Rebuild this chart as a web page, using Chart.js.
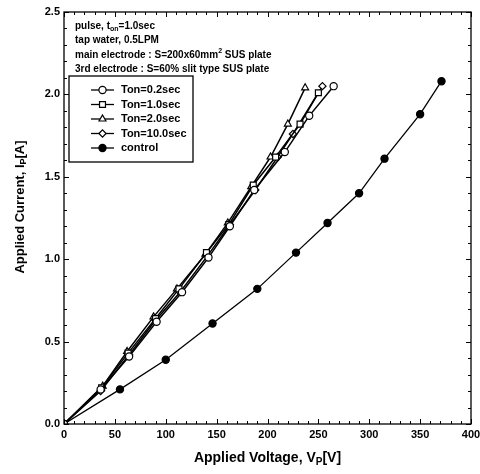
<!DOCTYPE html>
<html>
<head>
<meta charset="utf-8">
<script src="https://cdn.jsdelivr.net/npm/chart.js@4"></script>
<style>
  html, body { margin: 0; padding: 0; background: #fff; }
  #wrap { width: 480px; height: 474px; position: relative; }
</style>
</head>
<body>
<div id="wrap"><canvas id="chart" width="480" height="474"></canvas></div>
<script>
// Pulse tests, applied voltage [V] vs applied current [A]
const voltsTon02 = [0, 36, 64, 91, 116, 142, 163, 187, 217, 241, 265];
const ampsTon02  = [0, 0.21, 0.41, 0.62, 0.80, 1.01, 1.20, 1.42, 1.65, 1.87, 2.05];
const voltsTon10 = [0, 37, 63, 90, 113, 140, 162, 186, 208, 232, 250];
const ampsTon10  = [0, 0.22, 0.43, 0.64, 0.82, 1.04, 1.21, 1.45, 1.62, 1.82, 2.01];
const voltsTon20 = [0, 38, 62, 88, 111, 139, 161, 184, 203, 220, 237];
const ampsTon20  = [0, 0.23, 0.44, 0.65, 0.82, 1.03, 1.22, 1.44, 1.62, 1.82, 2.04];
const voltsTon100 = [0, 36, 64, 90, 114, 141, 163, 188, 210, 225, 254];
const ampsTon100  = [0, 0.20, 0.42, 0.63, 0.80, 1.02, 1.21, 1.42, 1.62, 1.76, 2.05];
const voltsControl = [0, 55, 100, 146, 190, 228, 259, 290, 315, 350, 371];
const ampsControl  = [0, 0.21, 0.39, 0.61, 0.82, 1.04, 1.22, 1.40, 1.61, 1.88, 2.08];

const seriesLabels = ['Ton=0.2sec', 'Ton=1.0sec', 'Ton=2.0sec', 'Ton=10.0sec', 'control'];
const xTickValues = [0, 50, 100, 150, 200, 250, 300, 350, 400];
const yTickValues = [0.0, 0.5, 1.0, 1.5, 2.0, 2.5];
const notes = ['pulse, t', 'tap water, 0.5LPM', 'main electrode : S=200x60mm', '3rd electrode : S=60% slit type SUS plate'];

const FONT = '"Liberation Sans", Arial, sans-serif';

function toPoints(xs, ys) {
    return xs.map((x, i) => ({ x: x, y: ys[i] }));
}

function makeSet(label, xs, ys, style, filled) {
    return {
        label: label,
        data: toPoints(xs, ys),
        showLine: true,
        borderColor: '#000',
        borderWidth: filled ? 1.3 : 1.5,
        pointStyle: style,
        pointRadius: style === 'rect' ? 4.2 : (style === 'triangle' ? 4 : 3.6),
        pointBorderWidth: 1.2,
        pointBorderColor: '#000',
        pointBackgroundColor: filled ? '#000' : '#fff',
        tension: 0
    };
}

// text with a sub/superscript part
function drawSub(ctx, parts, x, y, size) {
    let cx = x;
    parts.forEach(p => {
        if (p.sub || p.sup) {
            ctx.font = 'bold ' + Math.round(size * 0.7) + 'px ' + FONT;
            ctx.fillText(p.t, cx, p.sub ? y + size * 0.3 : y - size * 0.4);
        } else {
            ctx.font = 'bold ' + size + 'px ' + FONT;
            ctx.fillText(p.t, cx, y);
        }
        cx += ctx.measureText(p.t).width;
    });
    return cx - x;
}
function measureSub(ctx, parts, size) {
    let w = 0;
    parts.forEach(p => {
        ctx.font = 'bold ' + ((p.sub || p.sup) ? Math.round(size * 0.7) : size) + 'px ' + FONT;
        w += ctx.measureText(p.t).width;
    });
    return w;
}

const framePlugin = {
    id: 'frame',
    afterDraw(chart) {
        const ctx = chart.ctx;
        const a = chart.chartArea;
        const xs = chart.scales.x, ys = chart.scales.y;
        ctx.save();
        ctx.strokeStyle = '#000';
        ctx.lineWidth = 1.3;
        ctx.strokeRect(a.left, a.top, a.right - a.left, a.bottom - a.top);

        // inward ticks on all four sides
        ctx.lineWidth = 1;
        ctx.beginPath();
        for (let v = 0; v <= 400; v += 10) {
            const px = Math.round(xs.getPixelForValue(v)) + 0.5;
            const len = v % 50 === 0 ? 5 : 3;
            ctx.moveTo(px, a.bottom); ctx.lineTo(px, a.bottom - len);
            ctx.moveTo(px, a.top); ctx.lineTo(px, a.top + len);
        }
        for (let k = 0; k <= 25; k++) {
            const py = Math.round(ys.getPixelForValue(k / 10)) + 0.5;
            const len = k % 5 === 0 ? 5 : 3;
            ctx.moveTo(a.left, py); ctx.lineTo(a.left + len, py);
            ctx.moveTo(a.right, py); ctx.lineTo(a.right - len, py);
        }
        ctx.stroke();

        // notes at top-left
        ctx.fillStyle = '#000';
        ctx.textBaseline = 'middle';
        ctx.textAlign = 'left';
        const nx = a.left + 11;
        drawSub(ctx, [{ t: notes[0] }, { t: 'on', sub: true }, { t: '=1.0sec' }], nx, 26, 10);
        drawSub(ctx, [{ t: notes[1] }], nx, 40, 10);
        drawSub(ctx, [{ t: notes[2] }, { t: '2', sup: true }, { t: ' SUS plate' }], nx, 55, 10);
        drawSub(ctx, [{ t: notes[3] }], nx, 69, 10);

        // legend box
        const lx = a.left + 5, ly = 76, lw = 124, lh = 86;
        ctx.lineWidth = 1.3;
        ctx.strokeRect(lx, ly, lw, lh);
        chart.data.datasets.forEach((ds, i) => {
            const yy = ly + 14 + i * 14.5;
            ctx.strokeStyle = '#000';
            ctx.lineWidth = 1.3;
            ctx.beginPath();
            ctx.moveTo(lx + 22, yy); ctx.lineTo(lx + 45, yy);
            ctx.stroke();
            ctx.fillStyle = ds.pointBackgroundColor;
            ctx.lineWidth = ds.pointBorderWidth;
            Chart.helpers.drawPoint(ctx, {
                pointStyle: ds.pointStyle,
                radius: ds.pointRadius,
                borderWidth: ds.pointBorderWidth,
                rotation: 0
            }, lx + 33.5, yy);
            ctx.fillStyle = '#000';
            ctx.font = 'bold 11px ' + FONT;
            ctx.fillText(ds.label, lx + 52, yy);
        });

        // axis titles
        const xt = [{ t: 'Applied Voltage, V' }, { t: 'P', sub: true }, { t: '[V]' }];
        const xw = measureSub(ctx, xt, 14);
        drawSub(ctx, xt, (a.left + a.right) / 2 - xw / 2, 458, 14);

        ctx.save();
        ctx.translate(20, 207);
        ctx.rotate(-Math.PI / 2);
        const yt = [{ t: 'Applied Current, I' }, { t: 'P', sub: true }, { t: '[A]' }];
        const yw = measureSub(ctx, yt, 13);
        drawSub(ctx, yt, -yw / 2, 0, 13);
        ctx.restore();
        ctx.restore();
    }
};

new Chart(document.getElementById('chart'), {
    type: 'scatter',
    data: {
        datasets: [
            makeSet(seriesLabels[0], voltsTon02, ampsTon02, 'circle', false),
            makeSet(seriesLabels[1], voltsTon10, ampsTon10, 'rect', false),
            makeSet(seriesLabels[2], voltsTon20, ampsTon20, 'triangle', false),
            makeSet(seriesLabels[3], voltsTon100, ampsTon100, 'rectRot', false),
            makeSet(seriesLabels[4], voltsControl, ampsControl, 'circle', true)
        ]
    },
    options: {
        responsive: false,
        animation: false,
        layout: { padding: { top: 12, right: 0, left: 0, bottom: 0 } },
        plugins: {
            legend: { display: false },
            tooltip: { enabled: false }
        },
        scales: {
            x: {
                type: 'linear',
                min: 0, max: 400,
                afterBuildTicks: s => { s.ticks = xTickValues.map(v => ({ value: v })); },
                afterFit: s => { s.height = 50; s.paddingRight = 9; },
                grid: { display: false, drawTicks: false },
                border: { display: false },
                ticks: {
                    color: '#000',
                    padding: 4,
                    font: { family: FONT, size: 11, weight: 'bold' }
                }
            },
            y: {
                type: 'linear',
                min: 0, max: 2.5,
                afterBuildTicks: s => { s.ticks = yTickValues.map(v => ({ value: v })); },
                afterFit: s => { s.width = 64; },
                grid: { display: false, drawTicks: false },
                border: { display: false },
                ticks: {
                    color: '#000',
                    padding: 4,
                    font: { family: FONT, size: 11, weight: 'bold' },
                    callback: v => v.toFixed(1)
                }
            }
        }
    },
    plugins: [framePlugin]
});
</script>
</body>
</html>
